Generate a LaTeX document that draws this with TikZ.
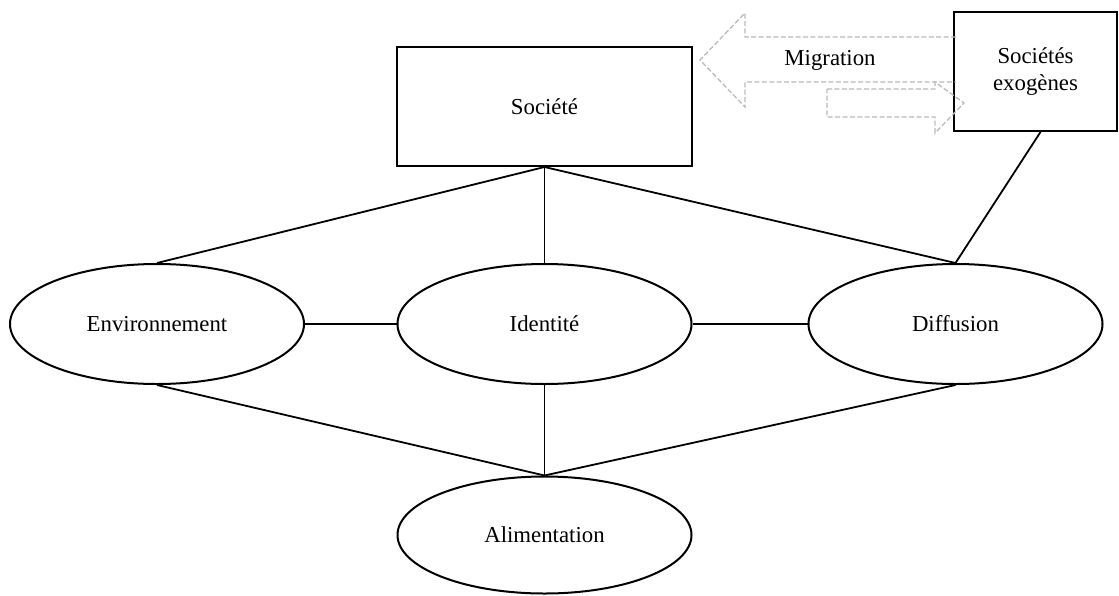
\documentclass[tikz,border=0pt]{standalone}
\usepackage{fontspec}
\setmainfont{Liberation Serif}
\usetikzlibrary{shapes.geometric}
\definecolor{arrowgray}{RGB}{185,185,185}
\begin{document}
\begin{tikzpicture}[x=0.5pt,y=-0.5pt,
  font=\fontsize{11.4pt}{13.5pt}\selectfont,
  link/.style={draw=black,line width=0.9pt},
  boxnode/.style={draw=black,line width=1pt,rectangle,inner sep=0pt,minimum width=147.5pt,minimum height=59.5pt},
  ellnode/.style={draw=black,line width=1pt,ellipse,inner sep=0pt,minimum width=147pt,minimum height=60pt},
  migr/.style={draw=arrowgray,line width=0.65pt,dash pattern=on 2.5pt off 1.2pt,line join=miter}]
\useasboundingbox (0,0) rectangle (1119,595);
\node[boxnode] (soc) at (544.5,106.5) {Société};
\node[boxnode,minimum width=81.5pt,align=center] (exo) at (1035.5,71.5) {Sociétés\\exogènes};
\node[ellnode] (env) at (157,324) {Environnement};
\node[ellnode] (ide) at (544.5,324) {Identité};
\node[ellnode] (dif) at (955.5,324) {Diffusion};
\node[ellnode,minimum height=58.5pt] (ali) at (544.5,535) {Alimentation};
\draw[link] (soc.south) -- (env.north);
\draw[link] (soc.south) -- (ide.north);
\draw[link] (soc.south) -- (dif.north);
\draw[link] (env.east) -- (ide.west);
\draw[link] (ide.east) -- (dif.west);
\draw[link] (env.south) -- (ali.north);
\draw[link] (ide.south) -- (ali.north);
\draw[link] (dif.south) -- (ali.north);
\draw[link] ([xshift=2.5pt]exo.south) -- (dif.north);
% migration arrows
\draw[migr] (956,37) -- (745,37) -- (745,13) -- (700,60) -- (745,107) -- (745,82) -- (956,82);
\draw[migr] (827,89) -- (935,89) -- (935,82) -- (964,103) -- (935,133) -- (935,117) -- (827,117) -- cycle;
\node[inner sep=0pt] (mig) at (830,60) {Migration};
\end{tikzpicture}
\end{document}
